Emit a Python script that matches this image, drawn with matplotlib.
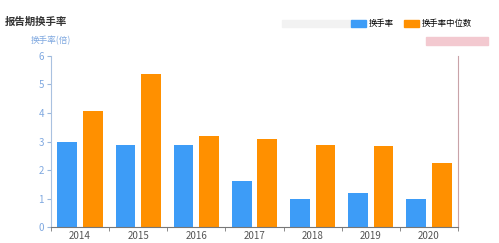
import matplotlib
matplotlib.use("Agg")
import matplotlib.pyplot as plt
import matplotlib.patches as mpatches
import numpy as np

plt.rcParams['font.family'] = ['Noto Sans CJK SC', 'DejaVu Sans']

# data
years = ['2014', '2015', '2016', '2017', '2018', '2019', '2020']
turnover = [3.0, 2.88, 2.88, 1.62, 0.98, 1.18, 1.0]
turnover_median = [4.08, 5.36, 3.2, 3.08, 2.88, 2.84, 2.24]

BLUE = '#3d9cf7'
ORANGE = '#ff9000'

W, H = 499, 243
fig = plt.figure(figsize=(W / 100, H / 100), dpi=100)
ax = fig.add_axes([51 / W, (H - 227) / H, (458 - 51) / W, (227 - 56) / H])

x = np.arange(len(years))
bw = 0.34
ax.bar(x - 0.22, turnover, bw, color=BLUE, zorder=2)
ax.bar(x + 0.22, turnover_median, bw, color=ORANGE, zorder=2)

ax.set_xlim(-0.5, len(years) - 0.5)
ax.set_ylim(0, 6)
ax.set_yticks(range(0, 7))
ax.set_xticks(x)
ax.set_xticklabels(years)
ax.set_xticks(np.arange(-0.5, len(years)), minor=True)
ax.tick_params(axis='x', which='major', length=0, labelsize=7,
               labelcolor='#555555', pad=3)
ax.tick_params(axis='x', which='minor', length=3, color='#777777', direction='out')
ax.tick_params(axis='y', length=3, color='#9ab8dd', labelsize=7,
               labelcolor='#7fa8e0', pad=2)

ax.spines['top'].set_visible(False)
ax.spines['left'].set_color('#a9c1e0')
ax.spines['right'].set_color('#c9a3a8')
ax.spines['bottom'].set_color('#777777')
for s in ax.spines.values():
    s.set_linewidth(0.8)

# title and axis name
fig.text(5 / W, 1 - 22 / H, '报告期换手率', fontsize=7.5, fontweight='bold',
         color='#333333', va='center')
fig.text(51 / W, 1 - 41 / H, '换手率(倍)', fontsize=6.2, color='#7fa8e0',
         va='center', ha='center')

# blurred bits in the reference
fig.patches.append(mpatches.Rectangle((282 / W, 1 - 27 / H), 70 / W, 7 / H,
                                      transform=fig.transFigure,
                                      color='#f2f2f2', zorder=0))
fig.patches.append(mpatches.Rectangle((426 / W, 1 - 45 / H), 62 / W, 8 / H,
                                      transform=fig.transFigure,
                                      color='#f3c9d0', zorder=0))

# legend
handles = [mpatches.Patch(color=BLUE, label='换手率'),
           mpatches.Patch(color=ORANGE, label='换手率中位数')]
fig.legend(handles=handles, loc='center right', bbox_to_anchor=(476 / W, 1 - 23.5 / H),
           ncol=2, frameon=False, fontsize=6, handlelength=1.8, handleheight=0.9,
           handletextpad=0.35, columnspacing=1.2, borderpad=0)

fig.savefig('out.png', dpi=100)
